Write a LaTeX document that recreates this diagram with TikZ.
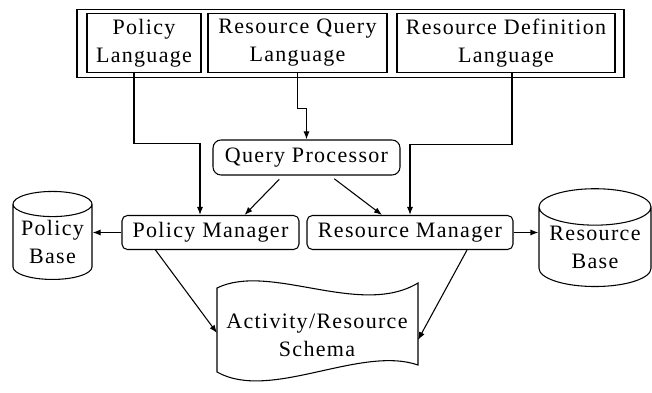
\documentclass[tikz,border=0pt]{standalone}
\usepackage{fontspec}
\setmainfont{Liberation Serif}[LetterSpace=6]
\usetikzlibrary{arrows.meta,calc,shapes.geometric}

\begin{document}
\begin{tikzpicture}[x=0.75pt,y=-0.75pt,
    every node/.style={font=\fontsize{16.5}{21}\selectfont, align=center, inner sep=0pt},
    lang/.style={draw, line width=0.9pt, rectangle, minimum height=44.25pt},
    unit/.style={draw, line width=0.8pt, rectangle, rounded corners=4pt, minimum height=25.5pt},
    store/.style={draw, line width=0.8pt, cylinder, shape border rotate=90, aspect=0.4},
    arr/.style={draw, line width=0.8pt, -{Latex[length=6pt,width=4.5pt]}}]
        \useasboundingbox (0,0) rectangle (652,392);

        % Languages
        % Define the nodes
        \node[draw, line width=0.9pt, rectangle, minimum width=410.25pt, minimum height=51pt] (langs) at (350.5,43.5) {};
        \node[lang, minimum width=85.5pt] (pl) at (144,43) {Policy\\Language};
        \node[lang, minimum width=134.25pt] (rql) at (297.5,43) {Resource Query\\Language};
        \node[lang, minimum width=163.5pt] (rdl) at (506,43) {Resource Definition\\Language};

        % Processing
        % Define the nodes
        \node[unit, rounded corners=6pt, minimum width=140.25pt, minimum height=26.25pt] (qp) at (306.5,157.5) {Query Processor};
        \node[unit, minimum width=132.75pt] (pm) at (210.5,232.5) {Policy Manager};
        \node[unit, minimum width=154.5pt] (rm) at (410,232.5) {Resource Manager};

        % Stores
        % Define the nodes
        \node[store, minimum width=59.25pt, minimum height=66pt] (pb) at (52.5,242) {Policy\\Base};
        \node[store, minimum width=84pt, minimum height=69pt] (rb) at (595,247) {Resource\\Base};

        % Schema
        \coordinate (sch-nw) at (217,288);
        \coordinate (sch-ne) at (418,283);
        \coordinate (sch-se) at (418,365);
        \coordinate (sch-sw) at (217,372);
        \coordinate (sch-w) at (217,333);
        \coordinate (sch-e) at (418,340);
        \draw[line width=0.8pt] (sch-nw) .. controls (270,262) and (360,318) .. (sch-ne)
            -- (sch-se) .. controls (360,345) and (270,402) .. (sch-sw) -- cycle;
        \node (sch) at (317,335) {Activity/Resource\\Schema};

        % Connect the nodes
        \draw[arr] ($(pl.south)+(-10,0)$) -- ++(0,70) -| ($(pm.north)+(-10.5,0)$);
        \draw[arr] (rql.south) -- ++(0,35) -| (qp.north);
        \draw[arr] ($(rdl.south)+(6,0)$) -- ++(0,71) -| (rm.north);
        \draw[arr, shorten <=4pt] ($(qp.south)+(-23.5,0)$) -- ($(pm.north)+(34,0)$);
        \draw[arr, shorten <=4pt] ($(qp.south)+(23.5,0)$) -- ($(rm.north)+(-28,0)$);
        \draw[arr] (pm.west) -- (pm.west -| pb.east);
        \draw[arr] (rm.east) -- (rm.east -| rb.west);
        \draw[arr] ($(pm.south)+(-55,0)$) -- (sch-w);
        \draw[arr] ($(rm.south)+(57,0)$) -- (sch-e);
    \end{tikzpicture}
\end{document}
